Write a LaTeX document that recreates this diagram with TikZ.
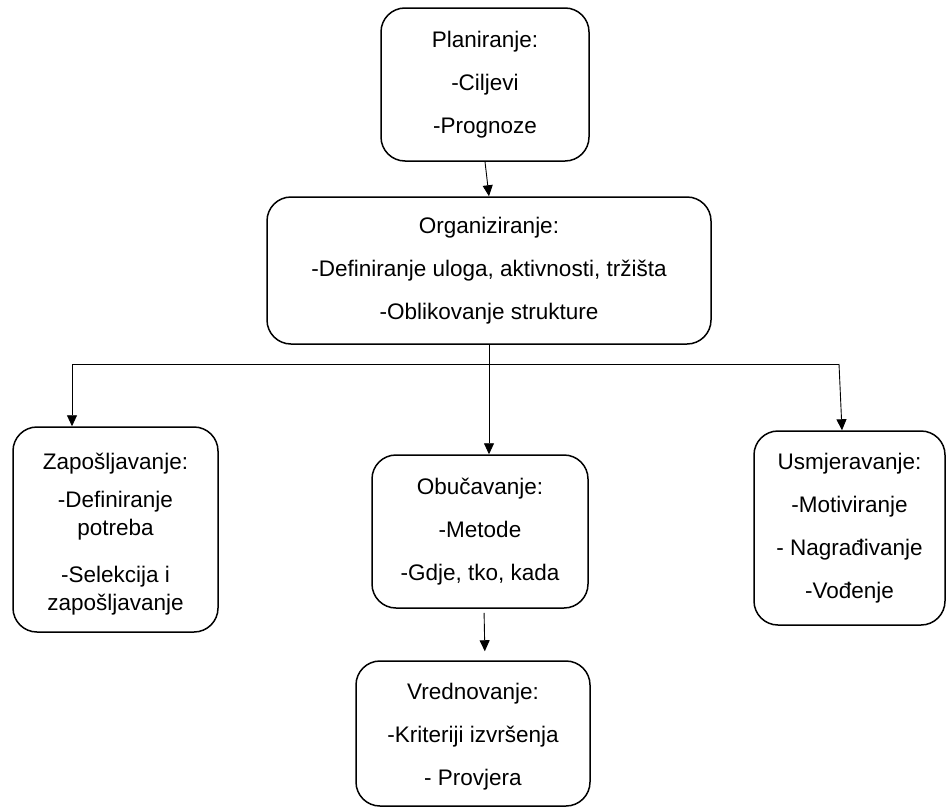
\documentclass[tikz,border=0pt]{standalone}
\usepackage{fontspec}
\setmainfont{Liberation Sans}
\usetikzlibrary{arrows.meta,calc}
\begin{document}
\begin{tikzpicture}[x=1pt,y=-1pt,
  box/.style={draw=black, line width=1.5pt, rounded corners=24pt, align=center,
    inner sep=0pt, font=\fontsize{22.5}{28}\selectfont},
  txt/.style={align=center, inner sep=0pt, font=\fontsize{22.5}{28}\selectfont},
  conn/.style={draw=black, line width=0.9pt},
  arr/.style={conn, -{Triangle[length=11pt,width=10pt]}}]
\useasboundingbox (0,0) rectangle (947,806);
\node[box, minimum width=208pt, minimum height=153pt] (plan) at (485,84.5)
  {Planiranje:\\[15pt]-Ciljevi\\[15pt]-Prognoze};
\node[box, minimum width=444pt, minimum height=147pt] (org) at (489,270.5)
  {Organiziranje:\\[15pt]-Definiranje uloga, aktivnosti, tržišta\\[15pt]-Oblikovanje strukture};
\node[box, minimum width=205pt, minimum height=205pt] (zap) at (115.5,529.5) {};
\node[txt] (zaptxt) at ([yshift=-5pt]zap.center)
  {Zapošljavanje:\\[10pt]-Definiranje\\potreba\\[19pt]-Selekcija i\\zapošljavanje};
\node[box, minimum width=216pt, minimum height=153pt] (obu) at (480,531.5)
  {Obučavanje:\\[15pt]-Metode\\[15pt]-Gdje, tko, kada};
\node[box, minimum width=191pt, minimum height=194pt] (usm) at (849.5,528)
  {Usmjeravanje:\\[15pt]-Motiviranje\\[15pt]- Nagrađivanje\\[15pt]-Vođenje};
\node[box, minimum width=234pt, minimum height=145pt] (vred) at (473,733.5) {};
\node[txt] (vredtxt) at ([yshift=-3pt]vred.center)
  {Vrednovanje:\\[15pt]-Kriteriji izvršenja\\[15pt]- Provjera};
\coordinate (jl) at (72,364);
\coordinate (jr) at (839,364);
\draw[arr] (plan.south) -- (org.north);
\draw[arr] (org.south) -- (org.south |- obu.north);
\draw[conn] (jl) -- (jr);
\draw[arr] (jl) -- (jl |- zap.north);
\draw[arr] (jr) -- ([xshift=-7.5pt]usm.north);
\draw[arr, shorten <=4pt, shorten >=9pt] ([xshift=4pt]obu.south) -- ([xshift=5pt]obu.south |- vred.north);
\end{tikzpicture}
\end{document}
